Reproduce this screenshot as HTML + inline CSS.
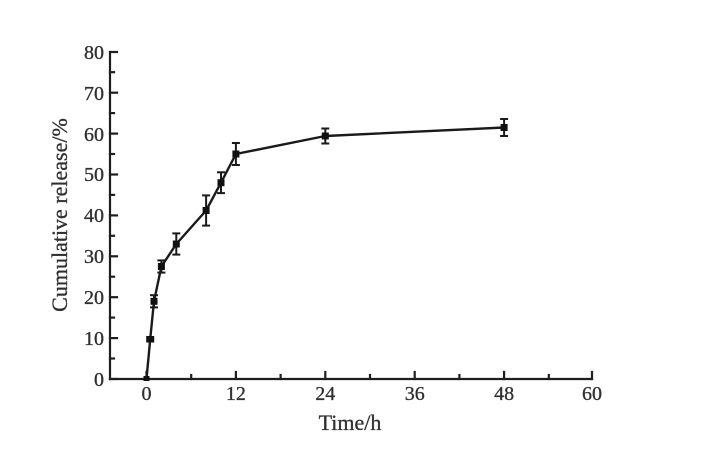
<!DOCTYPE html>
<html>
<head>
<meta charset="utf-8">
<style>
  html, body { margin: 0; padding: 0; background: #ffffff; }
  svg { display: block; }
  text { font-family: "Liberation Serif", "Times New Roman", serif; fill: #2e2e2e; stroke: #3a3a3a; stroke-width: 0.35; }
</style>
</head>
<body>
<svg width="708" height="476" viewBox="0 0 708 476" xmlns="http://www.w3.org/2000/svg">
  <rect width="708" height="476" fill="#ffffff"/>
  <g stroke="#1e1e1e" stroke-width="2.2" fill="none" stroke-linecap="square">
    <!-- axes -->
    <line x1="110" y1="52" x2="110" y2="379"/>
    <line x1="110" y1="379" x2="592" y2="379"/>
    <!-- y ticks major -->
    <line x1="110" y1="379" x2="117" y2="379"/>
    <line x1="110" y1="338.1" x2="117" y2="338.1"/>
    <line x1="110" y1="297.2" x2="117" y2="297.2"/>
    <line x1="110" y1="256.3" x2="117" y2="256.3"/>
    <line x1="110" y1="215.4" x2="117" y2="215.4"/>
    <line x1="110" y1="174.5" x2="117" y2="174.5"/>
    <line x1="110" y1="133.6" x2="117" y2="133.6"/>
    <line x1="110" y1="92.7" x2="117" y2="92.7"/>
    <line x1="110" y1="52" x2="117" y2="52"/>
    <!-- y ticks minor -->
    <line x1="110" y1="358.5" x2="114" y2="358.5"/>
    <line x1="110" y1="317.6" x2="114" y2="317.6"/>
    <line x1="110" y1="276.7" x2="114" y2="276.7"/>
    <line x1="110" y1="235.8" x2="114" y2="235.8"/>
    <line x1="110" y1="194.9" x2="114" y2="194.9"/>
    <line x1="110" y1="154" x2="114" y2="154"/>
    <line x1="110" y1="113.1" x2="114" y2="113.1"/>
    <line x1="110" y1="72.2" x2="114" y2="72.2"/>
    <!-- x ticks major -->
    <line x1="146.5" y1="379" x2="146.5" y2="372"/>
    <line x1="235.9" y1="379" x2="235.9" y2="372"/>
    <line x1="325.3" y1="379" x2="325.3" y2="372"/>
    <line x1="414.7" y1="379" x2="414.7" y2="372"/>
    <line x1="504.1" y1="379" x2="504.1" y2="372"/>
    <line x1="592" y1="379" x2="592" y2="372"/>
    <!-- x ticks minor -->
    <line x1="191.2" y1="379" x2="191.2" y2="375"/>
    <line x1="280.6" y1="379" x2="280.6" y2="375"/>
    <line x1="370" y1="379" x2="370" y2="375"/>
    <line x1="459.4" y1="379" x2="459.4" y2="375"/>
    <line x1="548.8" y1="379" x2="548.8" y2="375"/>
  </g>

  <!-- y labels -->
  <g font-size="20" text-anchor="end">
    <text x="104" y="386">0</text>
    <text x="104" y="345">10</text>
    <text x="104" y="304">20</text>
    <text x="104" y="263">30</text>
    <text x="104" y="222">40</text>
    <text x="104" y="181">50</text>
    <text x="104" y="141">60</text>
    <text x="104" y="100">70</text>
    <text x="104" y="59">80</text>
  </g>
  <!-- x labels -->
  <g font-size="20" text-anchor="middle">
    <text x="146.5" y="400">0</text>
    <text x="235.9" y="400">12</text>
    <text x="325.3" y="400">24</text>
    <text x="414.7" y="400">36</text>
    <text x="504.1" y="400">48</text>
    <text x="592" y="400">60</text>
  </g>
  <!-- axis titles -->
  <text x="350" y="430" font-size="22" text-anchor="middle">Time/h</text>
  <text transform="translate(67,215) rotate(-90)" font-size="22" text-anchor="middle">Cumulative release/%</text>

  <!-- series line -->
  <polyline fill="none" stroke="#1a1a1a" stroke-width="2.4" stroke-linejoin="round"
    points="146.5,379 150.2,339.3 154,301.3 161.4,266.5 176.3,244 206.1,210.5 221,182.7 235.9,154 325.3,136 504.1,127.5"/>

  <!-- error bars -->
  <g stroke="#1a1a1a" stroke-width="2" fill="none">
    <line x1="150.2" y1="336.5" x2="150.2" y2="342"/>
    <line x1="154" y1="295.2" x2="154" y2="307.4"/>
    <line x1="150" y1="295.2" x2="158" y2="295.2"/>
    <line x1="150" y1="307.4" x2="158" y2="307.4"/>
    <line x1="161.4" y1="260.4" x2="161.4" y2="272.6"/>
    <line x1="157.4" y1="260.4" x2="165.4" y2="260.4"/>
    <line x1="157.4" y1="272.6" x2="165.4" y2="272.6"/>
    <line x1="176.3" y1="233.4" x2="176.3" y2="254.6"/>
    <line x1="172.3" y1="233.4" x2="180.3" y2="233.4"/>
    <line x1="172.3" y1="254.6" x2="180.3" y2="254.6"/>
    <line x1="206.1" y1="195.4" x2="206.1" y2="225.6"/>
    <line x1="202.1" y1="195.4" x2="210.1" y2="195.4"/>
    <line x1="202.1" y1="225.6" x2="210.1" y2="225.6"/>
    <line x1="221" y1="172.3" x2="221" y2="193.1"/>
    <line x1="217" y1="172.3" x2="225" y2="172.3"/>
    <line x1="217" y1="193.1" x2="225" y2="193.1"/>
    <line x1="235.9" y1="143" x2="235.9" y2="165"/>
    <line x1="231.9" y1="143" x2="239.9" y2="143"/>
    <line x1="231.9" y1="165" x2="239.9" y2="165"/>
    <line x1="325.3" y1="128.5" x2="325.3" y2="143.5"/>
    <line x1="321.3" y1="128.5" x2="329.3" y2="128.5"/>
    <line x1="321.3" y1="143.5" x2="329.3" y2="143.5"/>
    <line x1="504.1" y1="119" x2="504.1" y2="136"/>
    <line x1="500.1" y1="119" x2="508.1" y2="119"/>
    <line x1="500.1" y1="136" x2="508.1" y2="136"/>
  </g>

  <!-- markers -->
  <g fill="#111">
    <rect x="143.5" y="376" width="6" height="5"/>
    <rect x="146.2" y="336" width="8" height="6.5"/>
    <rect x="150.5" y="297.8" width="7" height="7"/>
    <rect x="157.9" y="263" width="7" height="7"/>
    <rect x="172.8" y="240.5" width="7" height="7"/>
    <rect x="202.6" y="207" width="7" height="7"/>
    <rect x="217.5" y="179.2" width="7" height="7"/>
    <rect x="232.4" y="150.5" width="7" height="7"/>
    <rect x="321.8" y="132.5" width="7" height="7"/>
    <rect x="500.6" y="124" width="7" height="7"/>
  </g>
</svg>
</body>
</html>
